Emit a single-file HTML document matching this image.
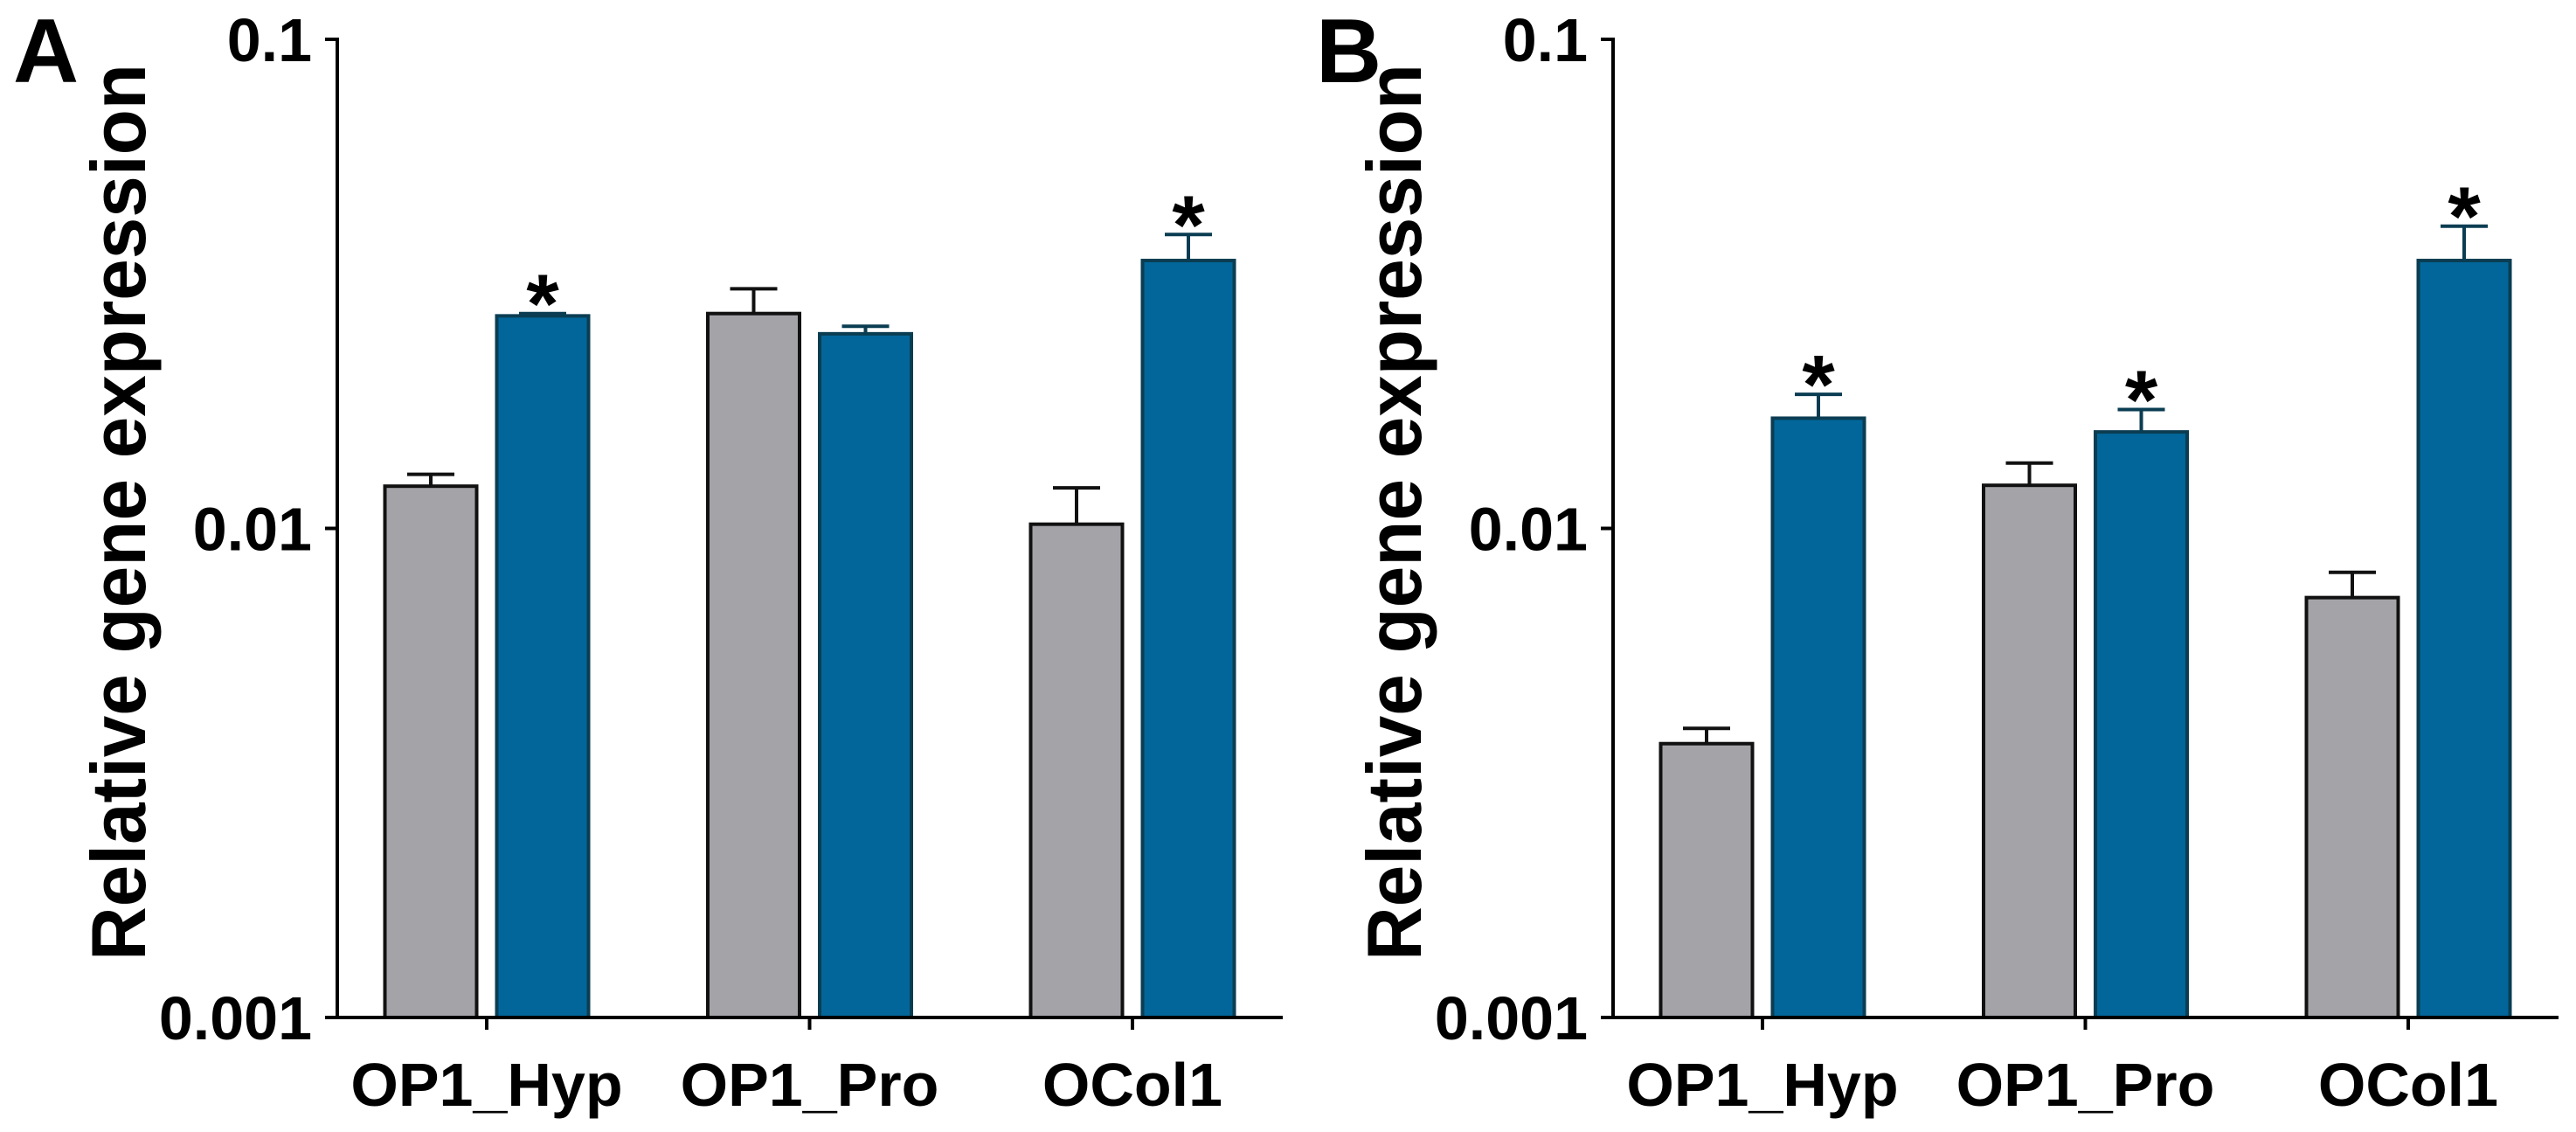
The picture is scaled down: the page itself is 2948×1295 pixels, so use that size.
<!DOCTYPE html>
<html><head><meta charset="utf-8"><style>
html,body{margin:0;padding:0;background:#fff;}
svg{display:block;font-family:"Liberation Sans",Arial,sans-serif;font-weight:bold;}
</style></head><body>
<svg id="fig" width="2948" height="1295" viewBox="0 0 2948 1295" xmlns="http://www.w3.org/2000/svg"></svg>
<script>
const categories = ["OP1_Hyp", "OP1_Pro", "OCol1"];
const yTicks = [0.1, 0.01, 0.001];
const yTickLabels = ["0.1", "0.01", "0.001"];
const aControl = [0.0122, 0.0275, 0.0102];
const aControlErr = [0.0129, 0.0309, 0.0121];
const aTreated = [0.0272, 0.0250, 0.0353];
const aTreatedErr = [0.0275, 0.0259, 0.0399];
const aStars = [true, false, true];
const bControl = [0.00363, 0.01225, 0.00722];
const bControlErr = [0.0039, 0.0136, 0.00813];
const bTreated = [0.0168, 0.01575, 0.0353];
const bTreatedErr = [0.0188, 0.0175, 0.0415];
const bStars = [true, true, true];

const NS = "http://www.w3.org/2000/svg";
const svg = document.getElementById("fig");
function mk(tag, attrs, parent) {
  const e = document.createElementNS(NS, tag);
  for (const k in attrs) e.setAttribute(k, attrs[k]);
  (parent || svg).appendChild(e);
  return e;
}

function panel(letter, ax, ctrl, ctrlErr, trt, trtErr, stars) {
  const yTop = 45, yBot = 1164, axEnd = ax + 1082;
  const yScale = v => yTop + (-1 - Math.log10(v)) * (yBot - yTop) / 2;
  const xCenter = i => ax + 171 + i * 369.5;
  const bw = 105, gap = 23;
  const g = mk("g", {});
  
  

  const pl = mk("text", {x: ax - 371 + (letter === "B" ? 31 : 0), y: 94, "font-size": 104, fill: "#000"}, g);
  pl.textContent = letter;
  
  

  const t = mk("text", {x: 0, y: 0, "font-size": 88, fill: "#000", "text-anchor": "middle",
    transform: `translate(${ax - 220},586) rotate(-90)`, textLength: 1026, lengthAdjust: "spacingAndGlyphs"}, g);
  t.textContent = "Relative gene expression";
  
  

  for (let i = 0; i < categories.length; i++) {
    const c = xCenter(i);
    const series = [[ctrl[i], ctrlErr[i], c - gap / 2 - bw, "#a4a3a8", "#111", "control"],
                    [trt[i], trtErr[i], c + gap / 2, "#02669a", "#0b3d52", "treated"]];
    for (const [v, e, x0, fill, stroke, nm] of series) {
      const yv = yScale(v), ye = yScale(e), mx = x0 + bw / 2;
      const el = mk("line", {x1: mx, x2: mx, y1: yv, y2: ye, stroke: stroke, "stroke-width": 4}, g);
      
      
      const cap = mk("line", {x1: mx - 27, x2: mx + 27, y1: ye, y2: ye, stroke: stroke, "stroke-width": 4}, g);
      
      
      const r = mk("rect", {x: x0, y: yv, width: bw, height: yBot - yv, fill: fill, stroke: stroke, "stroke-width": 4}, g);
      
      
    }
    if (stars[i]) {
      const sx = c + gap / 2 + bw / 2;
      const s = mk("text", {x: sx, y: yScale(trtErr[i]) + 22, "font-size": 96, "text-anchor": "middle", fill: "#000"}, g);
      s.textContent = "*";
      
      
    }
    const lb = mk("text", {x: c, y: 1265, "font-size": 70, "text-anchor": "middle", fill: "#000"}, g);
    lb.textContent = categories[i];
    
    
    const tk = mk("line", {x1: c, x2: c, y1: yBot, y2: yBot + 14, stroke: "#000", "stroke-width": 4}, g);
    
    
  }

  const ya = mk("line", {x1: ax, x2: ax, y1: yTop - 2, y2: yBot, stroke: "#000", "stroke-width": 4}, g);
  
  
  const xa = mk("line", {x1: ax - 14, x2: axEnd, y1: yBot, y2: yBot, stroke: "#000", "stroke-width": 4}, g);
  
  
  for (let k = 0; k < yTicks.length; k++) {
    const y = yScale(yTicks[k]);
    const tk = mk("line", {x1: ax - 14, x2: ax, y1: y, y2: y, stroke: "#000", "stroke-width": 4}, g);
    
    
    const tl = mk("text", {x: ax - 29, y: y + 25, "font-size": 70, "text-anchor": "end", fill: "#000"}, g);
    tl.textContent = yTickLabels[k];
    
    
  }
}
panel("A", 386, aControl, aControlErr, aTreated, aTreatedErr, aStars);
panel("B", 1846, bControl, bControlErr, bTreated, bTreatedErr, bStars);
</script>
</body></html>
